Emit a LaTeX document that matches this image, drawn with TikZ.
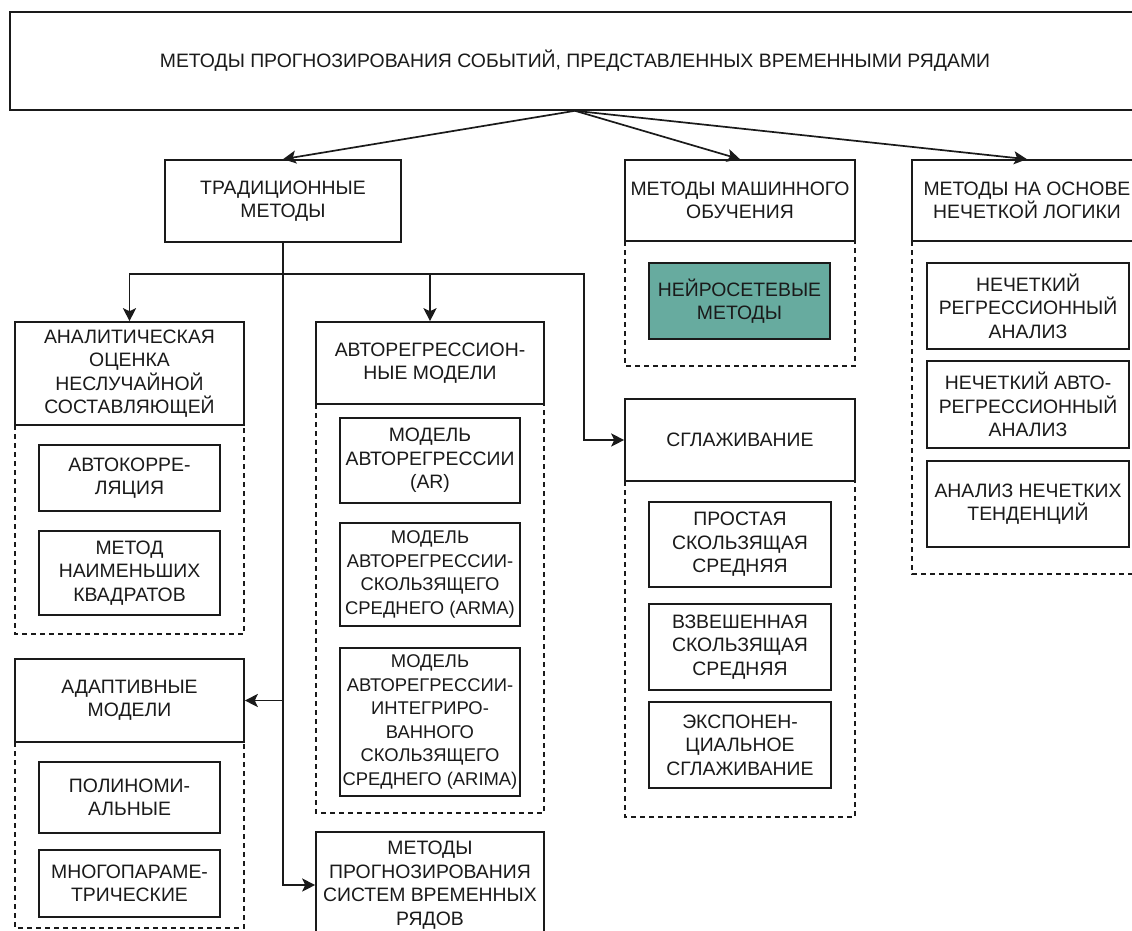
\documentclass[tikz,border=0pt]{standalone}
\usepackage{fontspec}
\setmainfont{Liberation Sans}
\usetikzlibrary{arrows.meta,calc}
\definecolor{tealfill}{HTML}{67AB9F}
\definecolor{ln}{HTML}{1A1A1A}
\begin{document}
\begin{tikzpicture}[x=1pt,y=-1pt,
  box/.style={draw=ln, line width=1.6pt, fill=white, align=center, inner sep=0pt,
    font=\fontsize{19.4}{23.5}\selectfont, text=ln},
  narrowtext/.style={font=\fontsize{18.4}{23.5}\selectfont},
  dashbox/.style={draw=ln, line width=1.4pt, dash pattern=on 5pt off 4pt},
  arr/.style={draw=ln, line width=1.7pt, -{Stealth[length=13pt,width=13pt,inset=3pt]}},
  ]
\useasboundingbox (0,0) rectangle (1132,931);
\clip (0,0) rectangle (1132,931);

% dashed containers
\draw[dashbox] (625,241) rectangle (855,366);
\draw[dashbox] (912,241) rectangle (1142,574);
\draw[dashbox] (15,425) rectangle (244,634);
\draw[dashbox] (316,404) rectangle (544,813);
\draw[dashbox] (625,481) rectangle (855,817);
\draw[dashbox] (15,742) rectangle (244,928);

% title
\node[box, minimum width=1130pt, minimum height=98pt] (title) at (575,61)
  {МЕТОДЫ ПРОГНОЗИРОВАНИЯ СОБЫТИЙ, ПРЕДСТАВЛЕННЫХ ВРЕМЕННЫМИ РЯДАМИ};

% level 1
\node[box, minimum width=236pt, minimum height=82pt] (trad) at (283,201) {ТРАДИЦИОННЫЕ\\МЕТОДЫ};
\node[box, minimum width=230pt, minimum height=81pt] (ml) at (740,200.5) {МЕТОДЫ МАШИННОГО\\ОБУЧЕНИЯ};
\node[box, minimum width=230pt, minimum height=81pt] (fuzzy) at (1027,200.5) {МЕТОДЫ НА ОСНОВЕ\\НЕЧЕТКОЙ ЛОГИКИ};

% machine learning
\node[box, fill=tealfill, minimum width=181pt, minimum height=76pt] (neuro) at (739.5,301) {НЕЙРОСЕТЕВЫЕ\\МЕТОДЫ};

% fuzzy
\node[box, minimum width=202pt, minimum height=86pt] (fz1) at (1028,306) {НЕЧЕТКИЙ\\РЕГРЕССИОННЫЙ\\АНАЛИЗ};
\node[box, minimum width=202pt, minimum height=87pt] (fz2) at (1028,404.5) {НЕЧЕТКИЙ АВТО-\\РЕГРЕССИОННЫЙ\\АНАЛИЗ};
\node[box, minimum width=202pt, minimum height=86pt] (fz3) at (1028,504) {АНАЛИЗ НЕЧЕТКИХ\\ТЕНДЕНЦИЙ};

% analytical
\node[box, minimum width=229pt, minimum height=103pt] (anal) at (129.5,373.5) {АНАЛИТИЧЕСКАЯ\\ОЦЕНКА\\НЕСЛУЧАЙНОЙ\\СОСТАВЛЯЮЩЕЙ};
\node[box, minimum width=181pt, minimum height=66pt] (ac1) at (129.5,478) {АВТОКОРРЕ-\\ЛЯЦИЯ};
\node[box, minimum width=181pt, minimum height=84pt] (ac2) at (129.5,573) {МЕТОД\\НАИМЕНЬШИХ\\КВАДРАТОВ};

% autoregressive
\node[box, minimum width=228pt, minimum height=82pt] (ar) at (430,363) {АВТОРЕГРЕССИОН-\\НЫЕ МОДЕЛИ};
\node[box, minimum width=180pt, minimum height=85pt] (ar1) at (430,460.5) {МОДЕЛЬ\\АВТОРЕГРЕССИИ\\(AR)};
\node[box, narrowtext, minimum width=180pt, minimum height=103pt] (ar2) at (430,574.5) {МОДЕЛЬ\\АВТОРЕГРЕССИИ-\\СКОЛЬЗЯЩЕГО\\СРЕДНЕГО (ARMA)};
\node[box, narrowtext, minimum width=180pt, minimum height=148pt] (ar3) at (430,722) {МОДЕЛЬ\\АВТОРЕГРЕССИИ-\\ИНТЕГРИРО-\\ВАННОГО\\СКОЛЬЗЯЩЕГО\\СРЕДНЕГО (ARIMA)};

% smoothing
\node[box, minimum width=230pt, minimum height=82pt] (sm) at (740,440) {СГЛАЖИВАНИЕ};
\node[box, minimum width=182pt, minimum height=85pt] (sm1) at (740,544.5) {ПРОСТАЯ\\СКОЛЬЗЯЩАЯ\\СРЕДНЯЯ};
\node[box, minimum width=182pt, minimum height=86pt] (sm2) at (740,647) {ВЗВЕШЕННАЯ\\СКОЛЬЗЯЩАЯ\\СРЕДНЯЯ};
\node[box, minimum width=182pt, minimum height=86pt] (sm3) at (740,745) {ЭКСПОНЕН-\\ЦИАЛЬНОЕ\\СГЛАЖИВАНИЕ};

% adaptive
\node[box, minimum width=229pt, minimum height=83pt] (ad) at (129.5,700.5) {АДАПТИВНЫЕ\\МОДЕЛИ};
\node[box, minimum width=181pt, minimum height=71pt] (ad1) at (129.5,797.5) {ПОЛИНОМИ-\\АЛЬНЫЕ};
\node[box, minimum width=181pt, minimum height=67pt] (ad2) at (129.5,883.5) {МНОГОПАРАМЕ-\\ТРИЧЕСКИЕ};

% systems
\node[box, minimum width=228pt, minimum height=106pt] (sys) at (430,885) {МЕТОДЫ\\ПРОГНОЗИРОВАНИЯ\\СИСТЕМ ВРЕМЕННЫХ\\РЯДОВ};

% connectors
\draw[arr] (title.south) -- (trad.north);
\draw[arr] (title.south) -- (ml.north);
\draw[arr] (title.south) -- (fuzzy.north);

\coordinate (bus) at (283,274);
\coordinate (smk) at (584,274);
\draw[arr] (trad.south) -- (bus) -| (anal.north);
\draw[arr] (trad.south) -- (bus) -| (ar.north);
\draw[arr] (trad.south) -- (bus) -- (smk) |- (sm.west);
\draw[arr] (trad.south) |- (ad.east);
\draw[arr] (trad.south) |- (sys.west);
\end{tikzpicture}
\end{document}
